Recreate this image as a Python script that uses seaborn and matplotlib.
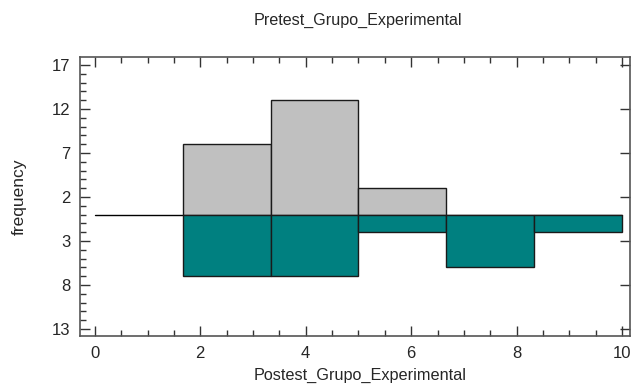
import numpy as np
import pandas as pd
import matplotlib
matplotlib.use("Agg")
import matplotlib.pyplot as plt
import seaborn as sns
from matplotlib.ticker import MultipleLocator, FixedLocator

# Data
bin_edges = [1.6667, 3.3333, 5.0, 6.6667, 8.3333, 10.0]
bin_centers = [2.5, 4.1667, 5.8333, 7.5, 9.1667]
pretest_counts = [8, 13, 3, 0, 0]
postest_counts = [7, 7, 2, 6, 2]
ytick_values = [17, 12, 7, 2, -3, -8, -13]
ytick_labels = ["17", "12", "7", "2", "3", "8", "13"]
xtick_values = [0, 2, 4, 6, 8, 10]

sns.set_style("white")
plt.rcParams['font.family'] = ['Liberation Sans', 'DejaVu Sans']

fig = plt.figure(figsize=(6.31, 3.88), dpi=100)
ax = fig.add_axes([0.1268, 0.134, 0.8716, 0.719])

up = pd.DataFrame({"x": bin_centers, "w": pretest_counts})
up = up[up.w > 0]
dn = pd.DataFrame({"x": bin_centers, "w": [-c for c in postest_counts]})

ax.plot([0, 10], [0, 0], color="black", lw=1, zorder=1)
sns.histplot(data=up, x="x", weights="w", bins=bin_edges[:4], color="#C0C0C0",
             edgecolor="#1a1a1a", linewidth=1, alpha=1, ax=ax, zorder=2)
sns.histplot(data=dn, x="x", weights="w", bins=bin_edges, color="#008080",
             edgecolor="#1a1a1a", linewidth=1, alpha=1, ax=ax, zorder=2)

ax.set_xlim(-0.28, 10.15)
ax.set_ylim(-13.8, 17.9)
ax.yaxis.set_major_locator(FixedLocator(ytick_values))
ax.set_yticklabels(ytick_labels)
ax.yaxis.set_minor_locator(MultipleLocator(1))
ax.xaxis.set_major_locator(FixedLocator(xtick_values))
ax.xaxis.set_minor_locator(MultipleLocator(0.5))

ax.tick_params(axis="both", which="major", direction="in", length=7, width=1,
               color="#333333", labelsize=12, pad=7,
               left=True, bottom=True, top=True, right=True)
ax.tick_params(axis="both", which="minor", direction="in", length=4, width=1,
               color="#333333", left=True, bottom=True, top=True, right=False)
ax.tick_params(axis="x", which="both", top=True)
for s in ax.spines.values():
    s.set_color("#555555")
    s.set_linewidth(1.2)

ax.set_xlabel("Postest_Grupo_Experimental", fontsize=11.7)
ax.xaxis.set_label_coords(0.51, -0.115)
ax.set_ylabel("frequency", fontsize=12.5, labelpad=18)
fig.text(0.567, 0.948, "Pretest_Grupo_Experimental", ha="center", va="center", fontsize=11.6)

fig.savefig("out.png", dpi=100)
